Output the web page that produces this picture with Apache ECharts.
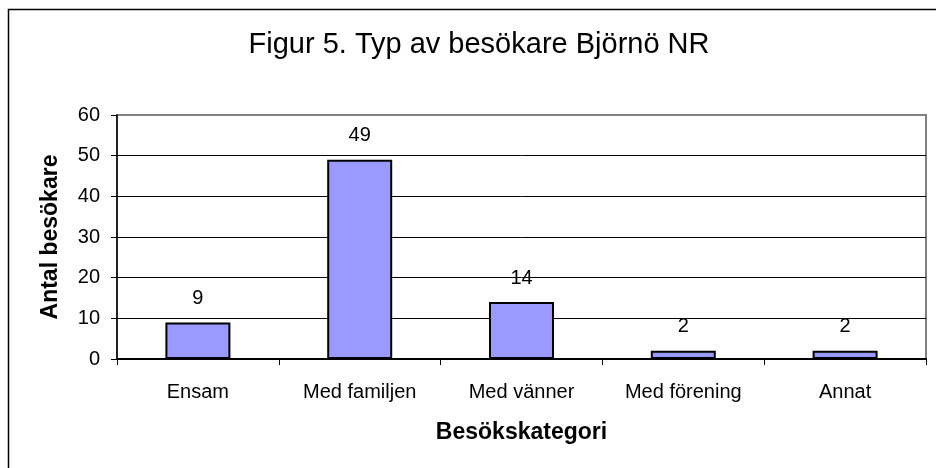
<!DOCTYPE html>
<html>
<head>
<meta charset="utf-8">
<script src="https://cdn.jsdelivr.net/npm/echarts@6/dist/echarts.min.js"></script>
<style>
  html, body { margin: 0; padding: 0; background: #fff; }
  #chart { width: 936px; height: 468px; }
</style>
</head>
<body>
<div id="chart"></div>
<script>
// data
const categories = ["Ensam", "Med familjen", "Med vänner", "Med förening", "Annat"];
const visitors = [9, 49, 14, 2, 2];
const yTicks = [0, 10, 20, 30, 40, 50, 60];

const font = "Liberation Sans, Arial, sans-serif";

let myChart = echarts.init(document.getElementById("chart"));

const options = {
  animation: false,
  textStyle: { fontFamily: font },
  title: {
    text: "Figur 5. Typ av besökare Björnö NR",
    left: 474,
    textAlign: "center",
    top: 25,
    textStyle: { fontFamily: font, fontSize: 29, fontWeight: "normal", color: "#000" }
  },
  graphic: [
    {
      type: "rect",
      shape: { x: 8.5, y: 9.5, width: 960, height: 480 },
      style: { fill: null, stroke: "#000", lineWidth: 1.5 },
      silent: true
    }
  ],
  grid: {
    left: 117,
    right: 10,
    top: 115,
    bottom: 109,
    show: true,
    borderColor: "#808080",
    borderWidth: 2
  },
  xAxis: {
    type: "category",
    data: categories,
    name: "Besökskategori",
    nameLocation: "middle",
    nameGap: 62,
    nameTextStyle: { fontFamily: font, fontSize: 23, fontWeight: "bold", color: "#000" },
    axisLine: { lineStyle: { color: "#000", width: 2 } },
    axisTick: { show: true, length: 6, alignWithLabel: false, lineStyle: { color: "#000" } },
    axisLabel: { margin: 23, fontFamily: font, fontSize: 20, color: "#000" }
  },
  yAxis: {
    type: "value",
    min: yTicks[0],
    max: yTicks[yTicks.length - 1],
    interval: 10,
    name: "Antal besökare",
    nameLocation: "middle",
    nameGap: 55,
    nameTextStyle: { fontFamily: font, fontSize: 23, fontWeight: "bold", color: "#000" },
    axisLine: { show: true, lineStyle: { color: "#000", width: 1.5 } },
    axisTick: { show: true, length: 6, lineStyle: { color: "#000" } },
    axisLabel: { margin: 17, fontFamily: font, fontSize: 20, color: "#000" },
    splitLine: {
      lineStyle: {
        color: ["#000", "#000", "#000", "#000", "#000", "#000", "#808080"],
        width: 1
      }
    }
  },
  series: [
    {
      name: "Antal besökare",
      type: "bar",
      data: visitors,
      barWidth: 65,
      itemStyle: { color: "#9999FF", borderColor: "#000", borderWidth: 2 },
      label: {
        show: true,
        position: "top",
        distance: 14,
        fontFamily: font,
        fontSize: 20,
        color: "#000"
      }
    }
  ]
};

myChart.setOption(options);
</script>
</body>
</html>
